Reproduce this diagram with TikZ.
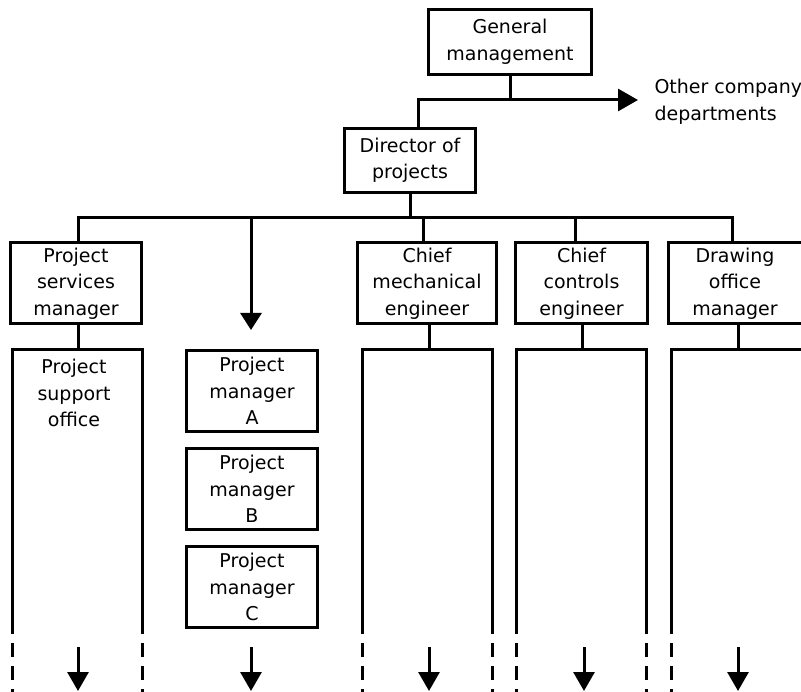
\documentclass[tikz,border=0pt]{standalone}
\usepackage{fontspec}
\setmainfont{DejaVu Sans}
\usetikzlibrary{arrows.meta}
\begin{document}
\begin{tikzpicture}[x=1pt,y=-1pt,line width=3pt,
  txt/.style={font=\fontsize{19}{26.5}\selectfont},
  box/.style={draw,line width=3pt,align=center,inner sep=0pt,txt},
  lbl/.style={align=center,inner sep=0pt,txt},
  bigtip/.style={-{Triangle[length=20pt,width=22pt]}},
  midtip/.style={-{Triangle[length=17pt,width=21pt]}},
  lowtip/.style={-{Triangle[length=19pt,width=21pt]}},
  dashside/.style={line width=3pt,dash pattern=on 14pt off 9pt}]
\useasboundingbox (0,0) rectangle (801,692);
\clip (0,0) rectangle (801,692);

% top level
\node[box,minimum width=163pt,minimum height=65pt] (gm) at (510,42) {General\\management};
\node[box,minimum width=131pt,minimum height=64pt] (dir) at (410,160.5) {Director of\\projects};
\node[lbl,anchor=west,align=left] (other) at (653,102) {Other company\\departments};
\coordinate (gmj) at (510,100);
\coordinate (dirj) at (418,100);
\coordinate (otherend) at (638,100);
\draw (gm.south) -- (gmj);
\draw (dirj |- dir.north) -- (dirj) -- (gmj);
\draw[bigtip] (gmj) -- (otherend);

% second level boxes
\node[box,minimum width=131pt,minimum height=81pt] (psm) at (76,283.5) {Project\\services\\manager};
\node[box,minimum width=139pt,minimum height=81pt] (cme) at (427,283.5) {Chief\\mechanical\\engineer};
\node[box,minimum width=132pt,minimum height=81pt] (cce) at (581.5,283.5) {Chief\\controls\\engineer};
\node[box,minimum width=134pt,minimum height=81pt] (dom) at (735,283.5) {Drawing\\office\\manager};

% bus
\coordinate (busL) at (78,218);
\coordinate (busR) at (732,218);
\coordinate (pmj) at (251,218);
\coordinate (pmtip) at (251,330);
\draw (dir.south -| 410,0) -- (410,218);
\draw (busL |- psm.north) -- (busL) -- (busR) -- (busR |- dom.north);
\draw (423,218) -- (423,242);
\draw (575,218) -- (575,242);
\draw[midtip] (pmj) -- (pmtip);

% project managers
\node[box,minimum width=131pt,minimum height=81pt] (pma) at (252,391) {Project\\manager\\A};
\node[box,minimum width=131pt,minimum height=81pt] (pmb) at (252,489) {Project\\manager\\B};
\node[box,minimum width=131pt,minimum height=81pt] (pmc) at (252,587) {Project\\manager\\C};

% lower open boxes
\foreach \l/\r/\c/\n in {12.5/142.5/78/psm, 362.5/492.5/429/cme, 516.5/646.5/582/cce, 671.5/806/738/dom}{
  \draw (\c,325) -- (\c,349.5);
  \draw (\l,634) -- (\l,349.5) -- (\r,349.5) -- (\r,634);
  \draw[dashside] (\l,643) -- (\l,700);
  \draw[dashside] (\r,643) -- (\r,700);
}
\node[lbl] (pso) at (74,393) {Project\\support\\office};

% bottom arrows
\foreach \x/\n in {78/a,251/b,429/c,584/d,738/e}{
  \coordinate (bs\n) at (\x,647);
  \coordinate (be\n) at (\x,691);
  \draw[lowtip] (bs\n) -- (be\n);
}
\end{tikzpicture}
\end{document}
